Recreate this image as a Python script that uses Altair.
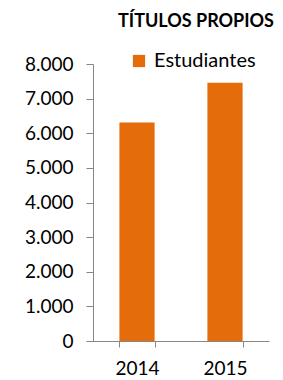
import altair as alt
import pandas as pd

years = ["2014", "2015"]
estudiantes = [6310, 7455]
series_name = "Estudiantes"
y_ticks = [0, 1000, 2000, 3000, 4000, 5000, 6000, 7000, 8000]

df = pd.DataFrame({"year": years, "value": estudiantes, "serie": [series_name] * len(years)})

FONT = "Lato"
AXIS_GREY = "#868686"

chart = alt.Chart(df).mark_bar(color="#E46C0A").encode(
    x=alt.X("year:N", title=None,
            scale=alt.Scale(paddingInner=0.6, paddingOuter=0.3),
            axis=alt.Axis(labelAngle=0, tickBand="extent", labelFontSize=19, labelFont=FONT,
                          labelColor="#000000", domainColor=AXIS_GREY, tickColor=AXIS_GREY,
                          tickSize=6, labelPadding=12)),
    y=alt.Y("value:Q", title=None,
            scale=alt.Scale(domain=[0, 8000]),
            axis=alt.Axis(values=y_ticks, grid=False, labelFontSize=19, labelFont=FONT,
                          labelColor="#000000", domainColor=AXIS_GREY, tickColor=AXIS_GREY,
                          tickSize=7, labelPadding=13,
                          labelExpr="replace(format(datum.value, ','), ',', '.')")),
    color=alt.Color("serie:N", scale=alt.Scale(domain=[series_name], range=["#E46C0A"]),
                    legend=alt.Legend(title=None, orient="none", legendX=36, legendY=-13,
                                      symbolType="square", symbolSize=150, symbolStrokeWidth=0,
                                      labelFontSize=20, labelFont=FONT, labelColor="#000000",
                                      labelOffset=5, padding=0)),
).properties(
    width=176,
    height=277,
    title=alt.TitleParams("TÍTULOS PROPIOS", fontSize=18, fontWeight="bold", font=FONT,
                          anchor="middle", dx=15, offset=20, color="#000000"),
    autosize=alt.AutoSizeParams(type="none"),
    padding={"left": 85, "top": 56, "right": 6, "bottom": 39},
).configure_view(stroke=None)

chart.save("out.html", embed_options={"renderer": "svg", "actions": False})
